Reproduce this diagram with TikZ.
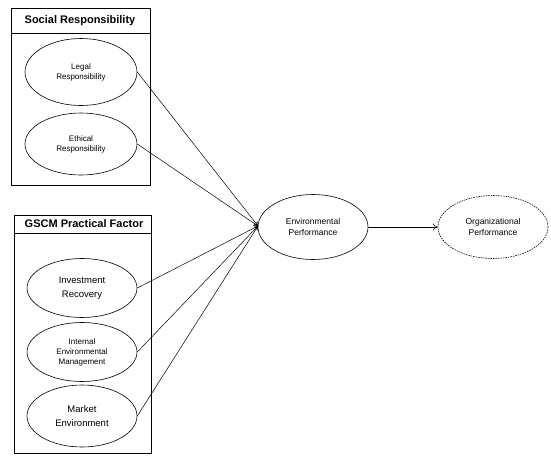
\documentclass[tikz,border=0pt]{standalone}
\usepackage{fontspec}
\setmainfont{Liberation Sans}
\usetikzlibrary{shapes.geometric,arrows.meta}

\begin{document}
\begin{tikzpicture}[x=1pt,y=-1pt,line width=0.6pt,
    factor/.style={draw,ellipse,inner sep=0pt,minimum width=112pt,align=center,font=\fontsize{8}{10}\selectfont},
    big/.style={font=\fontsize{9.5}{14}\selectfont},
    title/.style={font=\bfseries\fontsize{11}{13}\selectfont},
    link/.style={-{To[length=4pt,width=5pt]},line width=0.5pt}]

    \useasboundingbox (0,0) rectangle (551,456);

    % group boxes
    \draw (11,8) rectangle (150,185);
    \draw (11,33) -- (150,33);
    \node[title] (srtitle) at (80,20.5) {Social Responsibility};

    \draw (14,215) rectangle (151,453);
    \draw (14,233) -- (151,233);
    \node[title] (gscmtitle) at (84,224) {GSCM Practical Factor};

    % factors
    \node[factor,minimum height=67pt] (legal) at (81,72) {Legal\\Responsibility};
    \node[factor,minimum height=62pt] (ethical) at (81,144) {Ethical\\Responsibility};
    \node[factor,big,minimum width=110pt,minimum height=59pt] (invest) at (82,288) {Investment\\Recovery};
    \node[factor,minimum width=110pt,minimum height=59pt] (internal) at (82,352) {Internal\\Environmental\\Management};
    \node[factor,big,minimum width=110pt,minimum height=62pt] (market) at (82,416) {Market\\Environment};

    % outcomes
    \node[factor,font=\fontsize{8.5}{11}\selectfont,minimum width=110pt,minimum height=65pt] (envperf) at (313,227) {Environmental\\Performance};
    \node[factor,dash pattern=on 1.5pt off 1pt,font=\fontsize{8.5}{11}\selectfont,minimum width=110pt,minimum height=63pt] (orgperf) at (493,227) {Organizational\\Performance};

    \coordinate (hub) at (258,226);

    \draw [link] (legal.east) -- (hub);
    \draw [link] (ethical.east) -- (hub);
    \draw [link] (invest.east) -- (hub);
    \draw [link] (internal.east) -- (hub);
    \draw [link] (market.east) -- (hub);

    \draw [-{To[length=5pt,width=7pt]},line width=0.5pt] (envperf.east) -- (orgperf.west);
\end{tikzpicture}
\end{document}
